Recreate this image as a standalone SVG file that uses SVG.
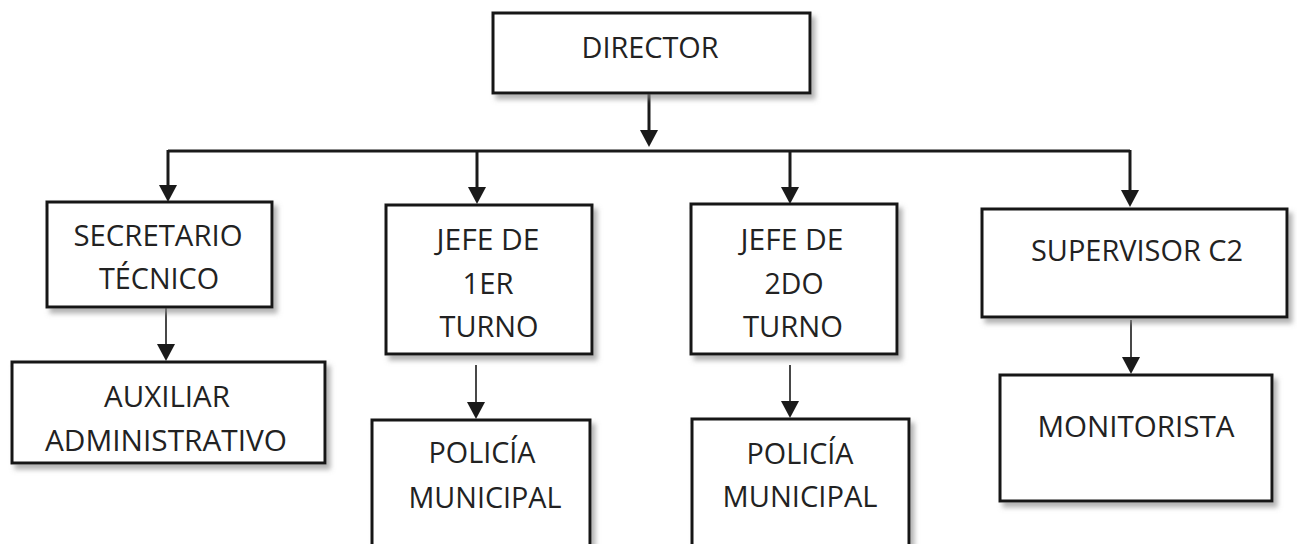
<svg xmlns="http://www.w3.org/2000/svg" width="1297" height="544" viewBox="0 0 1297 544">
<defs>
<style>
.box{fill:#fff;stroke:#141414;stroke-width:3;filter:url(#sh)}
.t{font-family:"Open Sans","Noto Sans","Liberation Sans",sans-serif;font-size:30px;fill:#222;text-anchor:middle}
.thick{stroke:#1a1a1a;stroke-width:3;fill:none}
.thin{stroke:#1a1a1a;stroke-width:1.6;fill:none}
</style>
<filter id="sh" x="-10%" y="-10%" width="125%" height="130%">
<feDropShadow dx="4" dy="5" stdDeviation="2.5" flood-color="#8a8a8a" flood-opacity="0.65"/>
</filter>
<marker id="ah" markerUnits="userSpaceOnUse" markerWidth="18" markerHeight="18" viewBox="0 0 17 18" refX="9" refY="9" orient="auto">
<path d="M0,0 L17,9 L0,18 Z" fill="#1a1a1a"/>
</marker>
</defs>
<rect width="1297" height="544" fill="#fff"/>
<g id="connectors">
<line class="thick" x1="649" y1="93" x2="649" y2="139" marker-end="url(#ah)"/>
<polyline class="thick" points="168,151 1130,151"/>
<line class="thick" x1="168" y1="150" x2="168" y2="194" marker-end="url(#ah)"/>
<line class="thick" x1="477" y1="150" x2="477" y2="196" marker-end="url(#ah)"/>
<line class="thick" x1="790" y1="150" x2="790" y2="196" marker-end="url(#ah)"/>
<line class="thick" x1="1130" y1="150" x2="1130" y2="199" marker-end="url(#ah)"/>
<line class="thin" x1="166" y1="307" x2="166" y2="353" marker-end="url(#ah)"/>
<line class="thin" x1="476" y1="365" x2="476" y2="411" marker-end="url(#ah)"/>
<line class="thin" x1="790" y1="365" x2="790" y2="410" marker-end="url(#ah)"/>
<line class="thin" x1="1131" y1="320" x2="1131" y2="366" marker-end="url(#ah)"/>
</g>
<g id="director">
<rect class="box" x="493" y="13" width="317" height="80"/>
<text class="t" x="650" y="58" textLength="137" lengthAdjust="spacingAndGlyphs">DIRECTOR</text>
</g>
<g id="secretario">
<rect class="box" x="47" y="202" width="225" height="105"/>
<text class="t" x="158" y="246" textLength="169" lengthAdjust="spacingAndGlyphs">SECRETARIO</text>
<text class="t" x="159" y="289" textLength="120" lengthAdjust="spacingAndGlyphs">TÉCNICO</text>
</g>
<g id="jefe1">
<rect class="box" x="386" y="205" width="206" height="149"/>
<text class="t" x="488" y="250" textLength="103" lengthAdjust="spacingAndGlyphs">JEFE DE</text>
<text class="t" x="488" y="294" textLength="51" lengthAdjust="spacingAndGlyphs">1ER</text>
<text class="t" x="489" y="337" textLength="99" lengthAdjust="spacingAndGlyphs">TURNO</text>
</g>
<g id="jefe2">
<rect class="box" x="691" y="204" width="206" height="150"/>
<text class="t" x="792" y="250" textLength="103" lengthAdjust="spacingAndGlyphs">JEFE DE</text>
<text class="t" x="794" y="294" textLength="59" lengthAdjust="spacingAndGlyphs">2DO</text>
<text class="t" x="793" y="337" textLength="100" lengthAdjust="spacingAndGlyphs">TURNO</text>
</g>
<g id="supervisor">
<rect class="box" x="982" y="209" width="305" height="108"/>
<text class="t" x="1137" y="261" textLength="212" lengthAdjust="spacingAndGlyphs">SUPERVISOR C2</text>
</g>
<g id="auxiliar">
<rect class="box" x="12" y="362" width="313" height="101"/>
<text class="t" x="167" y="407" textLength="126" lengthAdjust="spacingAndGlyphs">AUXILIAR</text>
<text class="t" x="166" y="451" textLength="242" lengthAdjust="spacingAndGlyphs">ADMINISTRATIVO</text>
</g>
<g id="policia1">
<rect class="box" x="372" y="420" width="218" height="150"/>
<text class="t" x="482" y="463" textLength="107" lengthAdjust="spacingAndGlyphs">POLICÍA</text>
<text class="t" x="485" y="508" textLength="153" lengthAdjust="spacingAndGlyphs">MUNICIPAL</text>
</g>
<g id="policia2">
<rect class="box" x="692" y="419" width="217" height="150"/>
<text class="t" x="800" y="464" textLength="107" lengthAdjust="spacingAndGlyphs">POLICÍA</text>
<text class="t" x="800" y="507" textLength="155" lengthAdjust="spacingAndGlyphs">MUNICIPAL</text>
</g>
<g id="monitorista">
<rect class="box" x="1000" y="375" width="272" height="126"/>
<text class="t" x="1136" y="437" textLength="197" lengthAdjust="spacingAndGlyphs">MONITORISTA</text>
</g>
</svg>
